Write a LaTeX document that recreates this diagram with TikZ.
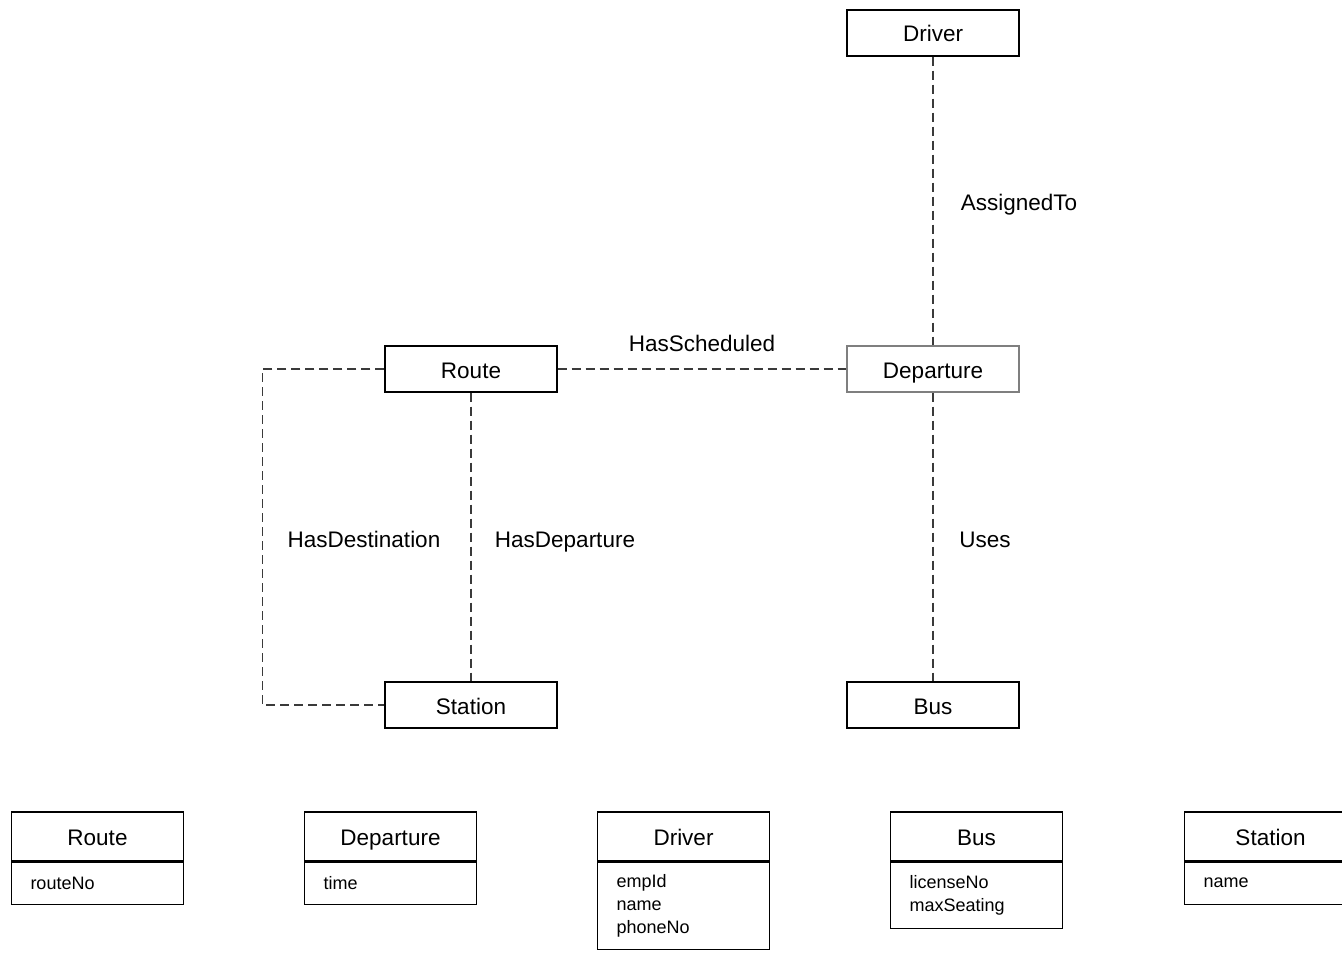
\documentclass[tikz,border=0pt]{standalone}
\usepackage{fontspec}
\setmainfont{Liberation Sans}
\usetikzlibrary{positioning}
\definecolor{boxline}{HTML}{000000}
\definecolor{softline}{HTML}{7F7F7F}
\definecolor{dashline}{HTML}{3A3A3A}

\begin{document}
\begin{tikzpicture}[x=0.5pt, y=-0.5pt,
  entity/.style={draw=boxline, line width=0.6pt, minimum width=86pt, minimum height=23pt,
    inner sep=0pt, text height=9.5pt, text depth=0.5pt, font=\fontsize{11.25}{13}\selectfont},
  tablehead/.style={entity, minimum height=24.5pt},
  tablebody/.style={draw=boxline, line width=0.6pt, minimum width=86pt, minimum height=#1,
    inner xsep=9.5pt, inner ysep=0pt, text width=67pt, align=left,
    font=\fontsize{9}{11.5}\selectfont},
  relline/.style={draw=dashline, line width=0.55pt, dash pattern=on 4.5pt off 2.5pt},
  rellabel/.style={font=\fontsize{11.25}{13}\selectfont, inner sep=0pt,
    text height=9.5pt, text depth=0.5pt}]

  % Canvas
  \useasboundingbox (0,0) rectangle (1342,952);

  % Entities
  \node[entity] (driver) at (933, 33) {Driver};
  \node[entity] (route) at (471, 369) {Route};
  \node[entity, draw=softline] (departure) at (933, 369) {Departure};
  \node[entity] (station) at (471, 705) {Station};
  \node[entity] (bus) at (933, 705) {Bus};

  % Relationships
  \draw[relline] (route) -- (departure);
  \node[rellabel] (hassched) at (702, 342) {HasScheduled};
  \draw[relline] (driver) -- (departure);
  \node[rellabel] (assigned) at (1019, 202) {AssignedTo};
  \draw[relline] (departure) -- (bus);
  \node[rellabel] (uses) at (985, 538) {Uses};
  \draw[relline] (route) -- (station);
  \node[rellabel] (hasdep) at (565, 538) {HasDeparture};
  \draw[relline] (route.west) -- ++(-122, 0) |- (station.west);
  \node[rellabel] (hasdest) at (364, 538) {HasDestination};

  % Attribute tables
  % Route
  \node[tablehead] (routehead) at (97.5, 836.5) {Route};
  \node[tablebody=21pt, below=0pt of routehead] (routebody) {routeNo};
  % Departure
  \node[tablehead] (dephead) at (390.5, 836.5) {Departure};
  \node[tablebody=21pt, below=0pt of dephead] (depbody) {time};
  % Driver
  \node[tablehead] (drvhead) at (683.5, 836.5) {Driver};
  \node[tablebody=43.5pt, below=0pt of drvhead] (drvbody) {empId\\name\\phoneNo};
  % Bus
  \node[tablehead] (bushead) at (976.5, 836.5) {Bus};
  \node[tablebody=33pt, below=0pt of bushead] (busbody) {licenseNo\\maxSeating};
  % Station
  \node[tablehead] (stahead) at (1270.5, 836.5) {Station};
  \node[tablebody=21pt, below=0pt of stahead] (stabody) {name};

\end{tikzpicture}
\end{document}
